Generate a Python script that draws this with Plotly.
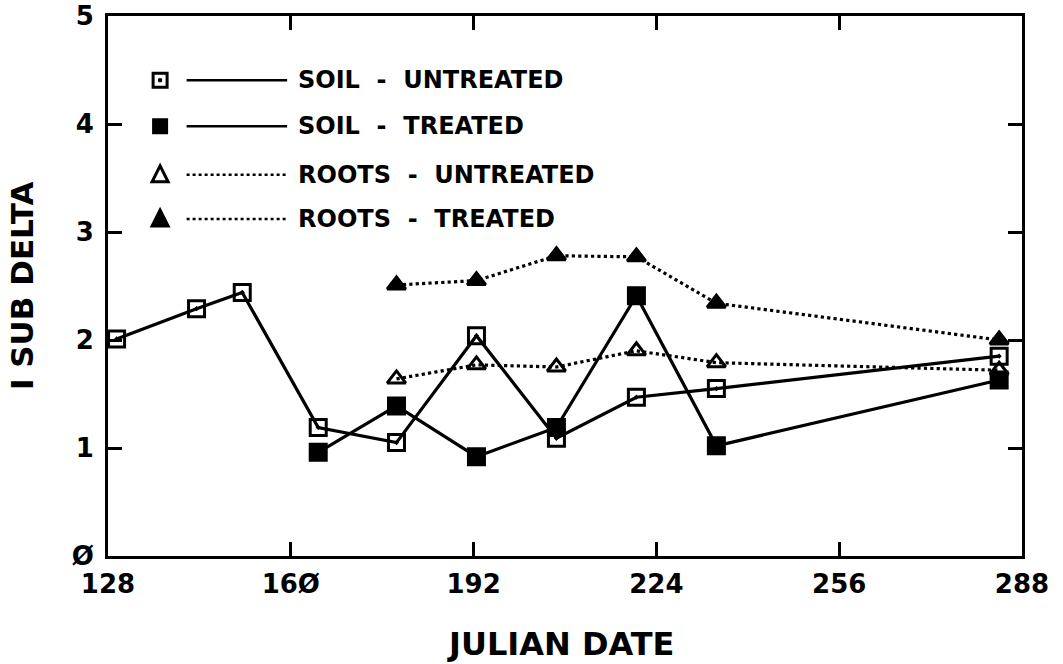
import plotly.graph_objects as go

# ---- data ----
soil_untreated_x = [129.5, 143.5, 151.5, 164.8, 178.5, 192.5, 206.5, 220.5, 234.5, 284.0]
soil_untreated_y = [2.01, 2.29, 2.44, 1.19, 1.05, 2.04, 1.09, 1.47, 1.55, 1.85]

soil_treated_x = [164.8, 178.5, 192.5, 206.5, 220.5, 234.5, 284.0]
soil_treated_y = [0.96, 1.39, 0.92, 1.19, 2.41, 1.02, 1.63]

roots_untreated_x = [178.5, 192.5, 206.5, 220.5, 234.5, 284.0]
roots_untreated_y = [1.64, 1.77, 1.75, 1.90, 1.79, 1.72]

roots_treated_x = [178.5, 192.5, 206.5, 220.5, 234.5, 284.0]
roots_treated_y = [2.51, 2.55, 2.78, 2.77, 2.34, 2.00]

x_ticks = [128, 160, 192, 224, 256, 288]
x_ticklabels = ["128", "16Ø", "192", "224", "256", "288"]
y_ticks = [0, 1, 2, 3, 4, 5]
y_ticklabels = ["Ø", "1", "2", "3", "4", "5"]

series_names = ["SOIL  -  UNTREATED", "SOIL  -  TREATED", "ROOTS  -  UNTREATED", "ROOTS  -  TREATED"]

FONT = "DejaVu Sans"
fig = go.Figure()

def add(x, y, symbol, dash):
    fig.add_trace(go.Scatter(
        x=x, y=y, mode="lines+markers",
        line=dict(color="black", width=3.2, dash=dash),
        marker=dict(symbol=symbol, size=16, color="black",
                    line=dict(color="black", width=3)),
        showlegend=False, cliponaxis=False))

add(roots_treated_x, roots_treated_y, "triangle-up", "dot")
add(roots_untreated_x, roots_untreated_y, "triangle-up-open", "dot")
add(soil_treated_x, soil_treated_y, "square", "solid")
add(soil_untreated_x, soil_untreated_y, "square-open-dot", "solid")

# ---- manual legend (symbol, then line, then text) ----
rows_y = [0.881, 0.796, 0.706, 0.624]
dashes = ["solid", "solid", "dot", "dot"]
shapes = []
annotations = []
sx = 0.057
for i, yy in enumerate(rows_y):
    shapes.append(dict(type="line", xref="paper", yref="paper",
                       x0=0.086, x1=0.196, y0=yy, y1=yy,
                       line=dict(color="black", width=2.5, dash=dashes[i])))
    annotations.append(dict(xref="paper", yref="paper", x=0.206, y=yy,
                            text="<b>" + series_names[i] + "</b>", showarrow=False,
                            xanchor="left", yanchor="middle",
                            font=dict(family=FONT, size=24, color="black")))
hw = 7 / 914
hh = 7 / 540
shapes.append(dict(type="rect", xref="paper", yref="paper",
                   x0=sx - hw, x1=sx + hw, y0=rows_y[0] - hh, y1=rows_y[0] + hh,
                   line=dict(color="black", width=3), fillcolor="white"))
shapes.append(dict(type="rect", xref="paper", yref="paper",
                   x0=sx - 1.5 / 914, x1=sx + 1.5 / 914, y0=rows_y[0] - 1.5 / 540, y1=rows_y[0] + 1.5 / 540,
                   line=dict(color="black", width=1), fillcolor="black"))
shapes.append(dict(type="rect", xref="paper", yref="paper",
                   x0=sx - hw, x1=sx + hw, y0=rows_y[1] - hh, y1=rows_y[1] + hh,
                   line=dict(color="black", width=2), fillcolor="black"))
def tri(yc, fill):
    tw = 8 / 914
    th = 7 / 540
    path = f"M {sx - tw} {yc - th} L {sx + tw} {yc - th} L {sx} {yc + th + 2/540} Z"
    return dict(type="path", xref="paper", yref="paper", path=path,
                line=dict(color="black", width=3), fillcolor=fill)
shapes.append(tri(rows_y[2], "white"))
shapes.append(tri(rows_y[3], "black"))

# axis titles as annotations for precise placement
annotations.append(dict(xref="paper", yref="paper", x=0.4956, y=-0.163,
                        text="<b>JULIAN DATE</b>", showarrow=False,
                        xanchor="center", yanchor="middle",
                        font=dict(family=FONT, size=32, color="black")))
annotations.append(dict(xref="paper", yref="paper", x=-0.094, y=0.5,
                        text="<b>I SUB DELTA</b>", showarrow=False, textangle=-90,
                        xanchor="center", yanchor="middle",
                        font=dict(family=FONT, size=31, color="black")))

axis_common = dict(showline=True, linecolor="black", linewidth=3, mirror="allticks",
                   ticks="inside", ticklen=14, tickwidth=2.5, tickcolor="black",
                   showgrid=False, zeroline=False, automargin=False,
                   ticklabeloverflow="allow",
                   tickfont=dict(family=FONT, size=26, color="black"))

fig.update_layout(
    width=1063, height=664,
    margin=dict(l=108, r=41, t=16, b=108),
    paper_bgcolor="white", plot_bgcolor="white",
    font=dict(family=FONT, color="black"),
    xaxis=dict(range=[128, 288], tickvals=x_ticks,
               ticktext=["<b>" + t + "</b>" for t in x_ticklabels],
               ticklabelstandoff=3,
               **axis_common),
    yaxis=dict(range=[0, 5], tickvals=y_ticks,
               ticktext=["<b>" + t + "</b>" for t in y_ticklabels],
               ticklabelstandoff=6,
               **axis_common),
    shapes=shapes, annotations=annotations,
)

fig.write_html("out.html", config={"displayModeBar": False},
               post_script="document.body.style.margin='0';document.body.style.padding='0';")
